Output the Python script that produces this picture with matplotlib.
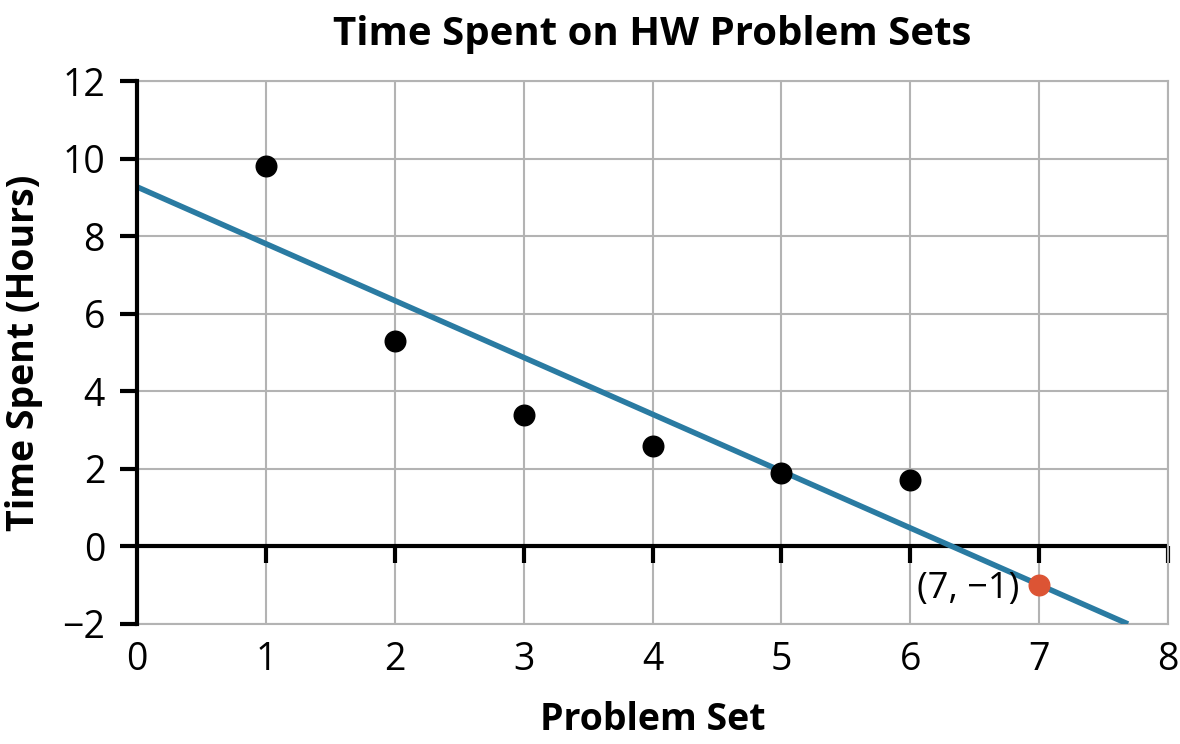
import matplotlib
matplotlib.use('Agg')
import matplotlib.pyplot as plt

# Data
problem_sets = [1, 2, 3, 4, 5, 6]
hours = [9.8, 5.3, 3.4, 2.6, 1.9, 1.7]
highlight_x = [7]
highlight_y = [-1]
fit_x = [0, 7.69]
fit_y = [9.27, -2]
x_ticks = [0, 1, 2, 3, 4, 5, 6, 7, 8]
y_ticks = [-2, 0, 2, 4, 6, 8, 10, 12]

plt.rcParams['font.family'] = ['Open Sans', 'DejaVu Sans']

fig = plt.figure(figsize=(11.8, 7.44), dpi=100)
ax = fig.add_axes([137 / 1180, 1 - 624 / 744, (1168 - 137) / 1180, (624 - 81) / 744])

ax.set_xlim(0, 8)
ax.set_ylim(-2, 12)
ax.set_xticks(x_ticks)
ax.set_yticks(y_ticks)
ax.set_yticklabels(['\u22122' if v == -2 else str(v) for v in y_ticks])
ax.grid(True, color='#b3b3b3', linewidth=1.5)
ax.set_axisbelow(True)

for side in ['top', 'right', 'bottom']:
    ax.spines[side].set_color('#b3b3b3')
    ax.spines[side].set_linewidth(1.5)
ax.spines['left'].set_color('black')
ax.spines['left'].set_linewidth(3)
ax.spines['left'].set_zorder(5)

ax.tick_params(axis='y', length=12, width=3, color='black', labelsize=27, pad=11)
ax.tick_params(axis='x', length=0, labelsize=27, pad=12)

# zero line with downward ticks
ax.axhline(0, color='black', linewidth=3, zorder=2)
ax.plot(x_ticks[1:], [0] * len(x_ticks[1:]), linestyle='none',
        marker=[(0, 0), (0, -1)], markersize=24, markeredgewidth=3,
        color='black', zorder=2, clip_on=False)

ax.plot(fit_x, fit_y, color='#2a7ba2', linewidth=4, solid_capstyle='butt', zorder=3)
ax.scatter(problem_sets, hours, s=220, color='black', zorder=4)
ax.scatter(highlight_x, highlight_y, s=220, color='#dc5434', zorder=4)
ax.text(highlight_x[0] - 0.15, highlight_y[0] - 0.1, '(7, \u22121)', fontsize=26,
        ha='right', va='center')

ax.set_title('Time Spent on HW Problem Sets', fontsize=29, fontweight='bold', pad=26)
ax.set_xlabel('Problem Set', fontsize=27, fontweight='bold', labelpad=16)
ax.set_ylabel('Time Spent (Hours)', fontsize=27, fontweight='bold', labelpad=14)

fig.savefig('out.png', dpi=100)
